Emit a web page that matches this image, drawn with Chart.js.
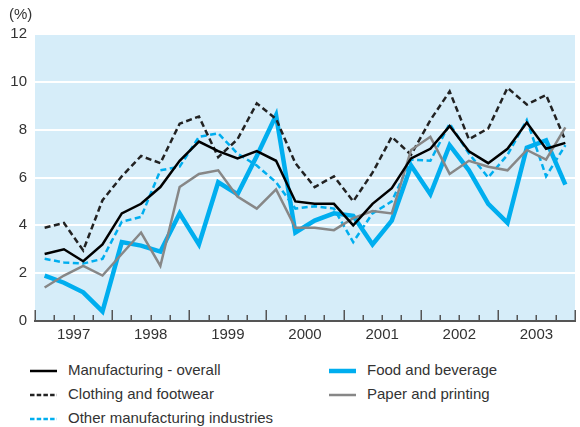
<!DOCTYPE html>
<html>
<head>
<meta charset="utf-8">
<script src="https://cdn.jsdelivr.net/npm/chart.js@4.4.1/dist/chart.umd.min.js"></script>
<style>
  html, body { margin: 0; padding: 0; background: #fff; overflow: hidden; }
  body { width: 580px; height: 427px; position: relative; font-family: "Liberation Sans", Arial, sans-serif; color: #333; }
  #wrap { position: absolute; left: 0; top: 0; width: 580px; height: 345px; }
  .lg { position: absolute; font-size: 15px; line-height: 18px; white-space: nowrap; }
  .lg svg { position: absolute; top: 7px; }
  .lg span { position: absolute; }
</style>
</head>
<body>
<div id="wrap"><canvas id="chart"></canvas></div>
<div id="legend"></div>
<script>
const years = ["1997", "1998", "1999", "2000", "2001", "2002", "2003"];
const quarters = [];
years.forEach(y => ["Q1", "Q2", "Q3", "Q4"].forEach(q => quarters.push(y + " " + q)));

const yTicks = [0, 2, 4, 6, 8, 10, 12];

const manufacturing = [2.8, 3.0, 2.5, 3.2, 4.5, 4.9, 5.6, 6.7, 7.5, 7.1, 6.8, 7.1, 6.7, 5.0,
  4.9, 4.9, 4.0, 4.9, 5.55, 6.8, 7.2, 8.15, 7.1, 6.6, 7.2, 8.3, 7.2, 7.45];
const clothing = [3.9, 4.1, 2.95, 5.05, 6.05, 6.9, 6.6, 8.25, 8.55, 6.85, 7.6, 9.1, 8.45, 6.6,
  5.6, 6.05, 5.0, 6.2, 7.7, 6.95, 8.4, 9.6, 7.6, 8.05, 9.75, 9.05, 9.45, 7.55];
const otherInd = [2.6, 2.45, 2.4, 2.6, 4.15, 4.35, 6.3, 6.45, 7.7, 7.85, 7.0, 6.5, 5.8, 4.7,
  4.8, 4.7, 3.3, 4.5, 5.0, 6.75, 6.7, 8.25, 7.0, 6.0, 6.95, 8.4, 6.05, 7.35];
const food = [1.9, 1.6, 1.2, 0.4, 3.3, 3.15, 2.9, 4.5, 3.2, 5.8, 5.3, 6.9, 8.6, 3.7,
  4.2, 4.5, 4.4, 3.2, 4.2, 6.5, 5.3, 7.35, 6.3, 4.9, 4.1, 7.25, 7.55, 5.7];
const paper = [1.4, 1.9, 2.3, 1.9, 2.8, 3.7, 2.3, 5.6, 6.15, 6.3, 5.2, 4.7, 5.5, 3.9,
  3.9, 3.8, 4.3, 4.6, 4.5, 7.15, 7.7, 6.15, 6.7, 6.45, 6.3, 7.15, 6.75, 8.1];

const BLUE = "#00aeef";
const GREY = "#878787";
const TEXT = "#333";
const FONT = "'Liberation Sans', Arial, sans-serif";

const series = [
  { label: "Manufacturing - overall", data: manufacturing, color: "#000", width: 2.5, dash: [], order: 1 },
  { label: "Clothing and footwear", data: clothing, color: "#222", width: 2.5, dash: [6, 3.5], order: 3 },
  { label: "Other manufacturing industries", data: otherInd, color: BLUE, width: 2.5, dash: [6, 3.5], order: 4 },
  { label: "Food and beverage", data: food, color: BLUE, width: 4.5, dash: [], order: 5 },
  { label: "Paper and printing", data: paper, color: GREY, width: 2.5, dash: [], order: 2 }
];

/* light blue plot background + "(%)" + quarter ticks */
const decor = {
  id: "decor",
  beforeDraw(chart) {
    const { ctx, chartArea: a } = chart;
    ctx.save();
    ctx.fillStyle = "#d6edf9";
    ctx.fillRect(a.left, a.top, a.right - a.left, a.bottom - a.top);
    ctx.fillStyle = TEXT;
    ctx.font = "15px " + FONT;
    ctx.textBaseline = "middle";
    ctx.fillText("(%)", 9, 15);
    ctx.restore();
  },
  afterDatasetsDraw(chart) {
    const { ctx, chartArea: a, scales } = chart;
    ctx.save();
    ctx.strokeStyle = "#555";
    ctx.lineWidth = 1.5;
    for (let i = 0; i <= quarters.length; i++) {
      const x = Math.round(scales.x.getPixelForValue(i)) + 0.25;
      const len = i % 4 === 0 ? 11 : 6;
      ctx.beginPath();
      ctx.moveTo(x, a.bottom);
      ctx.lineTo(x, a.bottom - len);
      ctx.stroke();
    }
    ctx.restore();
  }
};

new Chart(document.getElementById("chart"), {
  type: "line",
  data: {
    datasets: series.map(s => ({
      label: s.label,
      data: s.data.map((v, i) => ({ x: i + 0.5, y: v })),
      borderColor: s.color,
      borderWidth: s.width,
      borderDash: s.dash,
      order: s.order,
      pointRadius: 0,
      tension: 0,
      fill: false
    }))
  },
  options: {
    responsive: true,
    maintainAspectRatio: false,
    animation: false,
    layout: { padding: { top: 34, left: 0, right: 0, bottom: 0 } },
    plugins: { legend: { display: false }, tooltip: { enabled: false } },
    scales: {
      x: {
        type: "linear",
        min: 0,
        max: quarters.length,
        afterFit(s) { s.height = 24; },
        afterBuildTicks(s) {
          s.ticks = [];
          for (let i = 0; i <= quarters.length; i++) s.ticks.push({ value: i });
        },
        ticks: {
          autoSkip: false,
          maxRotation: 0,
          padding: 5,
          color: TEXT,
          font: { family: FONT, size: 15 },
          callback: v => (v % 4 === 2 ? years[(v - 2) / 4] : "")
        },
        grid: { display: false, drawTicks: false },
        border: { display: true, color: "#555", width: 2 }
      },
      y: {
        min: 0,
        max: 12,
        afterFit(s) { s.width = 35; },
        afterBuildTicks(s) { s.ticks = yTicks.map(v => ({ value: v })); },
        ticks: { padding: 8, color: TEXT, font: { family: FONT, size: 15 } },
        grid: { color: "#fff", lineWidth: 2, drawTicks: false },
        border: { display: false }
      }
    }
  },
  plugins: [decor]
});

/* legend, two columns */
const legendPos = [
  { s: 0, x: 30, y: 361 },
  { s: 1, x: 30, y: 385 },
  { s: 2, x: 30, y: 409 },
  { s: 3, x: 329, y: 361 },
  { s: 4, x: 329, y: 385 }
];
const legend = document.getElementById("legend");
legendPos.forEach(p => {
  const s = series[p.s];
  const d = document.createElement("div");
  d.className = "lg";
  d.style.left = p.x + "px";
  d.style.top = p.y + "px";
  const dash = s.dash.length ? ' stroke-dasharray="4.5,2.2"' : "";
  d.innerHTML = `<svg width="27" height="6" style="left:0"><line x1="0" y1="3" x2="27" y2="3" stroke="${s.color}" stroke-width="${s.width}"${dash}/></svg>` +
    `<span style="left:38px">${s.label}</span>`;
  legend.appendChild(d);
});
</script>
</body>
</html>
